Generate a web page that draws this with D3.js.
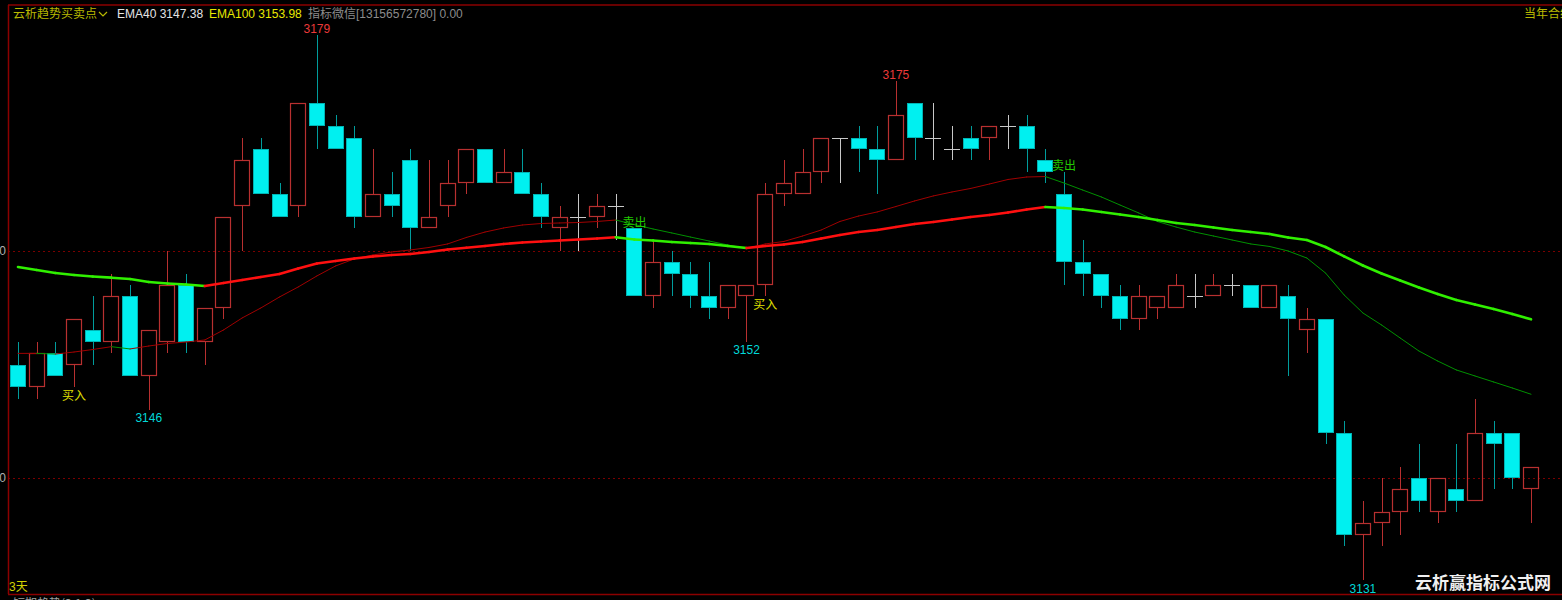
<!DOCTYPE html>
<html><head><meta charset="utf-8">
<script src="https://cdn.jsdelivr.net/npm/d3@7"></script>
<style>
html,body{margin:0;padding:0;background:#000;overflow:hidden}
svg{display:block}
</style></head><body>
<svg id="c" width="1562" height="600"></svg>
<script>
// ---- data ----
const openP  = [3150,3148,3151,3150,3153,3152,3156,3149,3152,3157,3152,3155,3164,3169,3165,3164,3173,3171,3170,3163,3165,3168,3162,3164,3166,3169,3166,3167,3165,3162,3163,3163,3164,3162,3156,3159,3158,3156,3155,3156,3157,3165,3165,3167,3170,3170,3169,3168,3173,3170,3169,3170,3170,3171,3171,3168,3165,3159,3158,3156,3154,3155,3155,3156,3156,3157,3157,3155,3156,3153,3154,3144,3135,3136,3137,3140,3137,3139,3138,3144,3144,3139];
const highP  = [3152,3152,3152,3154,3156,3158,3157,3153,3160,3158,3155,3163,3170,3170,3166,3173,3179,3172,3171,3169,3167,3169,3168,3168,3169,3169,3169,3169,3166,3164,3165,3165,3165,3162,3161,3160,3159,3159,3157,3157,3166,3168,3169,3170,3170,3171,3171,3175,3173,3173,3171,3171,3171,3172,3172,3169,3167,3161,3158,3157,3157,3156,3158,3158,3158,3158,3157,3157,3157,3155,3154,3145,3138,3140,3141,3143,3140,3143,3147,3145,3144,3141];
const lowP   = [3147,3147,3149,3148,3150,3151,3149,3146,3151,3151,3150,3154,3160,3165,3163,3163,3169,3169,3162,3163,3163,3160,3162,3163,3165,3166,3166,3165,3162,3160,3160,3162,3161,3156,3155,3156,3155,3154,3154,3152,3156,3164,3165,3166,3166,3167,3165,3168,3168,3168,3168,3168,3168,3169,3167,3166,3157,3156,3155,3153,3153,3154,3155,3155,3156,3156,3155,3155,3149,3151,3143,3134,3131,3134,3135,3137,3136,3137,3138,3139,3139,3136];
const closeP = [3148,3151,3149,3154,3152,3156,3149,3153,3157,3152,3155,3163,3168,3165,3163,3173,3171,3169,3163,3165,3164,3162,3163,3166,3169,3166,3167,3165,3163,3163,3163,3164,3164,3156,3159,3158,3156,3155,3157,3157,3165,3166,3167,3170,3170,3169,3168,3172,3170,3170,3169,3169,3171,3171,3169,3167,3159,3158,3156,3154,3156,3156,3157,3156,3157,3157,3155,3157,3154,3154,3144,3135,3136,3137,3139,3138,3140,3138,3144,3143,3140,3141];
const ema40  = [3150.98,3150.98,3150.92,3151.10,3151.32,3151.57,3151.37,3151.63,3151.85,3151.98,3152.16,3153.04,3154.10,3154.98,3155.95,3156.83,3157.80,3158.68,3159.30,3159.65,3159.91,3160.09,3160.31,3160.62,3161.19,3161.67,3162.03,3162.29,3162.42,3162.47,3162.51,3162.60,3162.73,3162.33,3161.94,3161.59,3161.23,3160.88,3160.53,3160.22,3160.62,3160.84,3161.32,3161.85,3162.60,3163.08,3163.44,3163.92,3164.41,3164.85,3165.20,3165.51,3165.90,3166.30,3166.52,3166.56,3165.99,3165.37,3164.76,3164.05,3163.35,3162.60,3162.11,3161.67,3161.32,3160.97,3160.62,3160.40,3160.00,3159.38,3158.06,3156.12,3154.54,3153.48,3152.33,3151.19,3150.31,3149.52,3148.99,3148.46,3147.93,3147.38];
const ema100 = [3158.59,3158.33,3158.06,3157.89,3157.75,3157.65,3157.53,3157.27,3157.14,3157.05,3156.92,3157.18,3157.44,3157.71,3157.97,3158.46,3158.90,3159.12,3159.34,3159.52,3159.65,3159.74,3159.91,3160.13,3160.29,3160.44,3160.62,3160.75,3160.84,3160.93,3161.01,3161.10,3161.21,3161.01,3160.93,3160.79,3160.70,3160.62,3160.44,3160.26,3160.44,3160.57,3160.79,3161.10,3161.41,3161.67,3161.85,3162.11,3162.38,3162.56,3162.78,3163.00,3163.17,3163.39,3163.66,3163.88,3163.79,3163.66,3163.44,3163.22,3163.00,3162.73,3162.47,3162.29,3162.07,3161.85,3161.67,3161.50,3161.19,3160.97,3160.35,3159.52,3158.72,3158.02,3157.40,3156.78,3156.21,3155.68,3155.29,3154.89,3154.45,3153.98];
const yTicks = [3140, 3160];
const highMarks = [16, 47];
const lowMarks = [7, 39, 72];
const buyIdx = [3, 40];
const sellIdx = [33, 56];
const headerParts = [
  {t:"EMA40 3147.38", x:117, c:"#e4e4e4"},
  {t:"EMA100 3153.98", x:209, c:"#e8e800"},
  {t:"指标微信[13156572780] 0.00", x:308, c:"#8c8c8c"}
];

// ---- chart ----
const W = 1562, H = 600;
const n = openP.length;
const svg = d3.select("#c");
const FONT = "'Liberation Sans', Arial, 'Noto Sans CJK SC', sans-serif";
const CJK = "'Noto Sans CJK SC', sans-serif";

const x = d3.scaleLinear().domain([0, n - 1]).range([18, 1531]);
const y = d3.scaleLinear().domain([3140, 3160]).range([478, 251]);

svg.append("rect").attr("width", W).attr("height", H).attr("fill", "#000");

// grid / axis
const ax = svg.append("g").attr("transform", "translate(8,0)")
  .call(d3.axisLeft(y).tickValues(yTicks).tickSize(-(W - 8)).tickFormat(d3.format("d")));
ax.select(".domain").remove();
ax.selectAll(".tick line").attr("stroke", "#7a0000").attr("stroke-dasharray", "2,3").attr("stroke-width", 1);
ax.selectAll(".tick text").attr("fill", "#b0b0b0").style("font-family", FONT).style("font-size", "12px").attr("x", -2);

// frame
const frame = svg.append("g").attr("stroke", "#8b0000").attr("stroke-width", 1.5).attr("fill", "none");
frame.append("line").attr("x1", 8).attr("x2", W).attr("y1", 5).attr("y2", 5);
frame.append("line").attr("x1", 8.5).attr("x2", 8.5).attr("y1", 5).attr("y2", 594);
frame.append("line").attr("x1", 8).attr("x2", W).attr("y1", 594.5).attr("y2", 594.5);

// candles
const UP = "#b83030", DOWN = "#00f0f0", DOWN_EDGE = "#00b4b4", DOWN_WICK = "#009c9c", DOJI = "#c8c8c8";
const cg = svg.append("g");
d3.range(n).forEach(i => {
  const cx = Math.round(x(i));
  const o = openP[i], c = closeP[i], hi = highP[i], lo = lowP[i];
  const yT = Math.round(y(Math.max(o, c))), yB = Math.round(y(Math.min(o, c)));
  const yH = Math.round(y(hi)), yL = Math.round(y(lo));
  const wx = cx + 0.5;
  if (c > o) {
    if (yH < yT) cg.append("line").attr("x1", wx).attr("x2", wx).attr("y1", yH).attr("y2", yT).attr("stroke", UP);
    if (yL > yB) cg.append("line").attr("x1", wx).attr("x2", wx).attr("y1", yB).attr("y2", yL).attr("stroke", UP);
    cg.append("rect").attr("x", cx - 8 + 0.5).attr("y", yT + 0.5).attr("width", 15).attr("height", Math.max(yB - yT - 1, 1))
      .attr("fill", "none").attr("stroke", UP).attr("stroke-width", 1.2);
  } else if (c < o) {
    cg.append("line").attr("x1", wx).attr("x2", wx).attr("y1", yH).attr("y2", yL).attr("stroke", DOWN_WICK);
    cg.append("rect").attr("x", cx - 8 + 0.5).attr("y", yT + 0.5).attr("width", 15).attr("height", Math.max(yB - yT - 1, 1))
      .attr("fill", DOWN).attr("stroke", DOWN_EDGE).attr("stroke-width", 1);
  } else {
    cg.append("line").attr("x1", wx).attr("x2", wx).attr("y1", yH).attr("y2", yL).attr("stroke", DOJI);
    cg.append("line").attr("x1", cx - 8).attr("x2", cx + 8).attr("y1", yT + 0.5).attr("y2", yT + 0.5).attr("stroke", DOJI);
  }
});

// EMA lines, coloured by direction
const line = d3.line().x(d => x(d[0])).y(d => y(d[1]));
function drawEma(vals, upC, dnC, w) {
  const g = svg.append("g").attr("fill", "none").attr("stroke-width", w).attr("stroke-linecap", "round");
  for (let i = 0; i < vals.length - 1; i++) {
    g.append("path").attr("d", line([[i, vals[i]], [i + 1, vals[i + 1]]]))
      .attr("stroke", vals[i + 1] >= vals[i] ? upC : dnC);
  }
}
drawEma(ema40, "#a00000", "#009000", 1);
drawEma(ema100, "#ff1010", "#30f000", 2.6);

// high / low marks
const lg = svg.append("g").style("font-family", FONT).style("font-size", "12px").attr("text-anchor", "middle");
highMarks.forEach(i => lg.append("text").attr("x", x(i)).attr("y", y(highP[i]) - 2).attr("fill", "#ec3a3a").text(highP[i]));
lowMarks.forEach(i => lg.append("text").attr("x", x(i)).attr("y", y(lowP[i]) + 12.5).attr("fill", "#00d8d8").text(lowP[i]));

// buy / sell signals
const sg = svg.append("g").style("font-family", CJK).style("font-size", "12px").attr("text-anchor", "middle");
buyIdx.forEach(i => sg.append("text").attr("x", x(i)).attr("y", y(lowP[i]) + 13).attr("fill", "#e0e000").text("买入"));
sellIdx.forEach(i => sg.append("text").attr("x", x(i)).attr("y", y(highP[i]) - 1.5).attr("fill", "#20c800").text("卖出"));

// header
const hg = svg.append("g").style("font-family", FONT).style("font-size", "12px");
hg.append("text").attr("x", 13).attr("y", 18).attr("fill", "#b8b800").style("font-family", CJK).text("云析趋势买卖点");
hg.append("path").attr("d", "M99,12 L103,16 L107,12").attr("stroke", "#b8b800").attr("fill", "none").attr("stroke-width", 1.2);
headerParts.forEach(p => hg.append("text").attr("x", p.x).attr("y", 18).attr("fill", p.c).text(p.t));
hg.append("text").attr("x", 1524).attr("y", 18).attr("fill", "#b8b800").style("font-family", CJK).text("当年合约");

// bottom texts
svg.append("text").attr("x", 9).attr("y", 591).attr("fill", "#d0d000").style("font-family", FONT).style("font-size", "12px").text("3天");
svg.append("text").attr("x", 13).attr("y", 608).attr("fill", "#a0a0a0").style("font-family", CJK).style("font-size", "12px").text("短期趋势(3,1,3)");
svg.append("text").attr("x", 1415).attr("y", 589).attr("fill", "#f0f0f0").style("font-family", CJK).style("font-size", "17px").style("font-weight", "bold").text("云析赢指标公式网");
</script>
</body></html>
